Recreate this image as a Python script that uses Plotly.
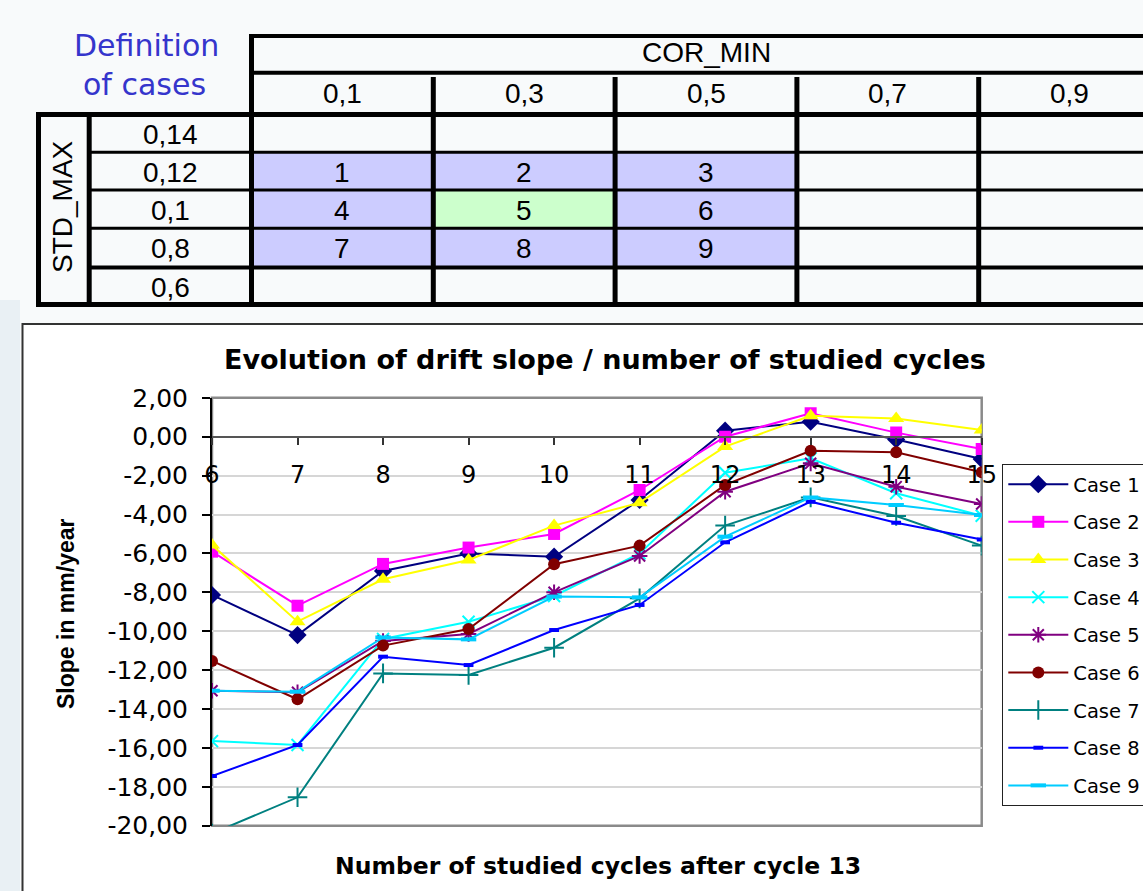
import plotly.graph_objects as go

# ---------------- data ----------------
cor_min_labels = ["0,1", "0,3", "0,5", "0,7", "0,9"]
std_max_labels = ["0,14", "0,12", "0,1", "0,8", "0,6"]
case_grid = [
    [None, None, None, None, None],
    [1, 2, 3, None, None],
    [4, 5, 6, None, None],
    [7, 8, 9, None, None],
    [None, None, None, None, None],
]
reference_case = 5

cycles = [6, 7, 8, 9, 10, 11, 12, 13, 14, 15]
case1 = [-8.14, -10.20, -6.90, -6.00, -6.17, -3.25, 0.31, 0.77, -0.14, -1.15]
case2 = [-5.91, -8.69, -6.54, -5.70, -5.00, -2.74, 0.00, 1.20, 0.21, -0.63]
case3 = [-5.57, -9.51, -7.33, -6.34, -4.57, -3.39, -0.51, 1.08, 0.94, 0.34]
case4 = [-15.65, -15.85, -10.40, -9.51, -8.19, -6.00, -1.85, -1.11, -2.91, -4.06]
case5 = [-13.06, -13.14, -10.50, -10.14, -8.00, -6.13, -2.83, -1.37, -2.57, -3.46]
case6 = [-11.53, -13.50, -10.74, -9.89, -6.56, -5.60, -2.48, -0.72, -0.80, -1.83]
case7 = [-20.40, -18.54, -12.17, -12.25, -10.85, -8.31, -4.57, -3.12, -4.08, -5.60]
case8 = [-17.45, -15.85, -11.31, -11.74, -9.94, -8.65, -5.43, -3.34, -4.42, -5.28]
case9 = [-13.06, -13.11, -10.32, -10.42, -8.22, -8.26, -5.14, -3.12, -3.51, -4.03]
case_names = ["Case 1", "Case 2", "Case 3", "Case 4", "Case 5",
              "Case 6", "Case 7", "Case 8", "Case 9"]
y_tick_vals = [2, 0, -2, -4, -6, -8, -10, -12, -14, -16, -18, -20]
y_tick_labels = ["2,00", "0,00", "-2,00", "-4,00", "-6,00", "-8,00", "-10,00",
                 "-12,00", "-14,00", "-16,00", "-18,00", "-20,00"]

# ---------------- styles ----------------
series_values = [case1, case2, case3, case4, case5, case6, case7, case8, case9]
series_colors = ["#000080", "#ff00ff", "#ffff00", "#00ffff", "#800080",
                 "#800000", "#008080", "#0000ff", "#00ccff"]
series_symbols = ["diamond", "square", "triangle-up", "x-thin", "asterisk",
                  "circle", "cross-thin", "line-ew", "line-ew"]
series_msize = [14, 12, 14, 12, 13, 12, 14, 7, 11]
series_mline = [0, 0, 0, 2, 2, 0, 2, 4, 4]

W, H = 1143, 891


def px(x):
    return x / W


def py(y):
    return 1 - y / H


CHART_FONT = "DejaVu Sans"
TABLE_FONT = "Liberation Sans, Arial"

fig = go.Figure()

for name, vals, col, sym, ms, ml in zip(case_names, series_values, series_colors,
                                        series_symbols, series_msize, series_mline):
    fig.add_trace(go.Scatter(
        x=cycles, y=vals, name=name, legendgroup=name,
        mode="lines+markers",
        line=dict(color=col, width=2),
        marker=dict(symbol=sym, size=ms, color=col,
                    line=dict(color=col, width=ml)),
    ))

shapes = []
annotations = []

# left edge tint of the slide background
shapes.append(dict(type="rect", xref="paper", yref="paper", x0=px(0), x1=px(20),
                   y0=py(900), y1=py(300), fillcolor="#e9f0f4", line=dict(width=0),
                   layer="below"))

# chart box
shapes.append(dict(type="rect", xref="paper", yref="paper", x0=px(22.5), x1=px(1170),
                   y0=py(920), y1=py(324), fillcolor="white",
                   line=dict(color="#333333", width=2), layer="below"))

# plot-area border
shapes.append(dict(type="rect", xref="paper", yref="paper",
                   x0=px(212), x1=px(981.7), y0=py(825.7), y1=py(397.8),
                   line=dict(color="#8a8a8a", width=2.5), layer="below"))

# ---------------- table ----------------
col_edges = [251.5 + i * 181.8 for i in range(6)]
row_edges = [114.5, 152.3, 190.0, 228.3, 267.5, 304.5]
LAV, GREEN = "#ccccff", "#ccffcc"

for r, row in enumerate(case_grid):
    for c, val in enumerate(row):
        if val is None:
            continue
        shapes.append(dict(type="rect", xref="paper", yref="paper",
                           x0=px(col_edges[c]), x1=px(col_edges[c + 1]),
                           y0=py(row_edges[r + 1]), y1=py(row_edges[r]),
                           fillcolor=GREEN if val == reference_case else LAV,
                           line=dict(width=0), layer="below"))
        annotations.append(dict(x=px((col_edges[c] + col_edges[c + 1]) / 2),
                                y=py((row_edges[r] + row_edges[r + 1]) / 2 + 1),
                                xref="paper", yref="paper", text=str(val), showarrow=False,
                                font=dict(family=TABLE_FONT, size=28, color="black"),
                                xanchor="center", yanchor="middle"))


def hline(y, x0, x1, w):
    shapes.append(dict(type="line", xref="paper", yref="paper", x0=px(x0), x1=px(x1),
                       y0=py(y), y1=py(y), line=dict(color="black", width=w)))


def vline(x, y0, y1, w):
    shapes.append(dict(type="line", xref="paper", yref="paper", x0=px(x), x1=px(x),
                       y0=py(y0), y1=py(y1), line=dict(color="black", width=w)))


RIGHT = 1180
hline(36, col_edges[0] - 2, RIGHT, 4)
hline(72.7, col_edges[0], RIGHT, 4)
hline(row_edges[0], 36, RIGHT, 5)
for y in row_edges[1:4]:
    hline(y, 89, RIGHT, 3)
hline(row_edges[4], 89, RIGHT, 4)
hline(row_edges[5], 36, RIGHT, 5)
vline(38.5, row_edges[0], row_edges[5] + 2, 5)
vline(89.2, row_edges[0], row_edges[5], 5)
vline(col_edges[0], 34, row_edges[5] + 2, 5)
for x in col_edges[1:5]:
    vline(x, 77, row_edges[5], 5)

annotations.append(dict(x=px((col_edges[0] + col_edges[5]) / 2), y=py(53), xref="paper", yref="paper",
                        text="COR_MIN", showarrow=False,
                        font=dict(family=TABLE_FONT, size=28, color="black"),
                        xanchor="center", yanchor="middle"))
for c, lab in enumerate(cor_min_labels):
    annotations.append(dict(x=px((col_edges[c] + col_edges[c + 1]) / 2), y=py(94),
                            xref="paper", yref="paper", text=lab, showarrow=False,
                            font=dict(family=TABLE_FONT, size=28, color="black"),
                            xanchor="center", yanchor="middle"))
for r, lab in enumerate(std_max_labels):
    annotations.append(dict(x=px(170), y=py((row_edges[r] + row_edges[r + 1]) / 2 + 1),
                            xref="paper", yref="paper", text=lab, showarrow=False,
                            font=dict(family=TABLE_FONT, size=28, color="black"),
                            xanchor="center", yanchor="middle"))
annotations.append(dict(x=px(63), y=py(207), xref="paper", yref="paper", text="STD_MAX",
                        showarrow=False, textangle=-90,
                        font=dict(family=TABLE_FONT, size=28, color="black"),
                        xanchor="center", yanchor="middle"))
annotations.append(dict(x=px(146), y=py(46), xref="paper", yref="paper", text="Definition",
                        showarrow=False, font=dict(family="DejaVu Sans", size=30, color="#3535cc"),
                        xanchor="center", yanchor="middle"))
annotations.append(dict(x=px(144), y=py(84), xref="paper", yref="paper", text="of cases",
                        showarrow=False, font=dict(family="DejaVu Sans", size=30, color="#3535cc"),
                        xanchor="center", yanchor="middle"))

# ---------------- chart texts ----------------
annotations.append(dict(x=px(605), y=py(360), xref="paper", yref="paper",
                        text="<b>Evolution of drift slope / number of studied cycles</b>",
                        showarrow=False, font=dict(family=CHART_FONT, size=27, color="black"),
                        xanchor="center", yanchor="middle"))
annotations.append(dict(x=px(598), y=py(866), xref="paper", yref="paper",
                        text="<b>Number of studied cycles after cycle 13</b>",
                        showarrow=False, font=dict(family=CHART_FONT, size=23.5, color="black"),
                        xanchor="center", yanchor="middle"))
annotations.append(dict(x=px(66), y=py(614), xref="paper", yref="paper",
                        text="<b>Slope in mm/year</b>", textangle=-90,
                        showarrow=False, font=dict(family=TABLE_FONT, size=23, color="black"),
                        xanchor="center", yanchor="middle"))

fig.update_layout(
    width=W, height=H,
    margin=dict(l=0, r=0, t=0, b=0, autoexpand=False),
    paper_bgcolor="#f8fafb",
    plot_bgcolor="rgba(0,0,0,0)",
    shapes=shapes,
    annotations=annotations,
    xaxis=dict(domain=[px(212), px(981.7)], range=[6, 15], tickvals=cycles,
               anchor="free", position=py(436.7), showgrid=False, zeroline=False,
               showline=True, linecolor="#555555", linewidth=2,
               ticks="outside", ticklen=7, tickwidth=1.5, tickcolor="#333333",
               ticklabelstandoff=9,
               tickfont=dict(family=CHART_FONT, size=24, color="black")),
    yaxis=dict(domain=[py(825.7), py(397.8)], range=[-20, 2],
               tickvals=y_tick_vals, ticktext=y_tick_labels,
               showgrid=True, gridcolor="#d6d6d6", gridwidth=1.5, zeroline=False,
               showline=True, linecolor="black", linewidth=2,
               ticks="outside", ticklen=8, tickwidth=1.5, tickcolor="black",
               ticklabelstandoff=9,
               tickfont=dict(family=CHART_FONT, size=25, color="black")),
    showlegend=True,
    legend=dict(x=px(1002.3), y=py(464), xanchor="left", yanchor="top",
                bgcolor="white", bordercolor="#222222", borderwidth=1,
                font=dict(family=CHART_FONT, size=19.5, color="black"),
                tracegroupgap=9.3, itemwidth=60),
)

fig.write_html("out.html", config={"displayModeBar": False},
               post_script="document.body.style.margin='0';document.documentElement.style.overflow='hidden';")
